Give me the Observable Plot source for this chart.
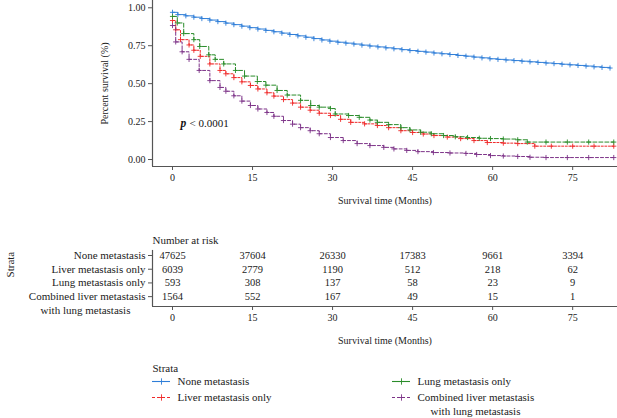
<!DOCTYPE html>
<html>
<head>
<meta charset="utf-8">
<script src="https://cdn.jsdelivr.net/npm/d3@7"></script>
<script src="https://cdn.jsdelivr.net/npm/@observablehq/plot@0.6"></script>
<style>
  body { margin: 0; background: #fff; }
  #chart { position: relative; width: 617px; height: 418px; overflow: hidden; }
  #chart > div { position: absolute; left: 0; }
  #chart svg { display: block; font-family: "Liberation Serif", "DejaVu Serif", serif !important; }
  #chart svg text { font-family: "Liberation Serif", "DejaVu Serif", serif !important; }
</style>
</head>
<body>
<div id="chart">
  <div id="km" style="top:0px"></div>
  <div id="risk" style="top:225px"></div>
  <div id="legend" style="top:355px"></div>
</div>
<script>
// ---------- data ----------
const strata = ["None metastasis", "Liver metastasis only", "Lung metastasis only", "Combined liver metastasis"];
const strataLine2 = ["", "", "", "with lung metastasis"];
const colors = ["#2f7ed8", "#ef2a2a", "#2a8c2a", "#7d3388"];
const dashes = ["none", "2,1.6", "4,2", "3,2"];
const legendDashes = ["none", "3,2", "none", "3,2"];

const monthTicks = [0, 15, 30, 45, 60, 75];
const survTicks = [0, 0.25, 0.5, 0.75, 1];

// Kaplan-Meier step points
const noneT = [0,1,2.5,4,5.5,7,8.5,10,11.5,13,14.5,16,17.5,19,20.5,22,23.5,25,26.5,28,29.5,31,32.5,34,35.5,37,38.5,40,41.5,43,44.5,46,47.5,49,50.5,52,53.5,55,56.5,58,59.5,61,62.5,64,65.5,67,68.5,70,71.5,73,74.5,76,77.5,79,80.5,82];
const noneS = [0.970,0.955,0.947,0.938,0.929,0.919,0.909,0.899,0.889,0.879,0.869,0.860,0.851,0.842,0.833,0.824,0.815,0.806,0.797,0.788,0.780,0.773,0.767,0.761,0.754,0.748,0.742,0.736,0.730,0.724,0.718,0.713,0.708,0.702,0.697,0.692,0.686,0.681,0.675,0.670,0.664,0.660,0.656,0.652,0.648,0.644,0.640,0.636,0.632,0.628,0.624,0.620,0.616,0.611,0.607,0.603];

const liverT = [0,0.6,1.5,3.1,4,5.2,7,8.9,10,11.5,13,14.6,16,17.7,19,20.8,22.5,24,25.8,27.5,29.6,31.5,33.4,36,38.4,40.5,42.8,45,47,49,51.5,54,56.5,59,62,64.7,67.9,71,75,79,82.7];
const liverS = [0.916,0.855,0.79,0.755,0.72,0.68,0.63,0.587,0.565,0.54,0.512,0.488,0.465,0.44,0.418,0.395,0.372,0.345,0.325,0.305,0.29,0.265,0.245,0.235,0.224,0.21,0.19,0.178,0.168,0.158,0.148,0.138,0.125,0.112,0.108,0.105,0.088,0.088,0.088,0.088,0.088];

const lungT = [0,0.9,2.1,4,5.1,6.8,8,9.6,11.8,13.5,15.9,17.5,19.6,21.5,24,25.9,27.5,29.6,30.5,33,35,37,38.4,40.5,42.8,44.5,46.5,48.5,50.8,53,55.3,57.5,59.6,62,64.7,66.5,70,74,78,82.7];
const lungS = [0.943,0.90,0.83,0.79,0.745,0.69,0.66,0.63,0.587,0.55,0.514,0.49,0.455,0.425,0.39,0.356,0.345,0.336,0.30,0.29,0.278,0.26,0.245,0.23,0.21,0.195,0.18,0.17,0.158,0.15,0.145,0.14,0.138,0.135,0.13,0.115,0.115,0.115,0.115,0.115];

const combT = [0,0.6,1.8,3.1,5,7,8.9,10,11.5,13,14.6,16,17.7,19,20.8,22.5,24,25.8,27.5,29.6,32,34.6,37,39.6,41.5,43.9,46,48.9,52,55,57,59.6,62,64.7,67,70,74,78,82.7];
const combS = [0.883,0.775,0.71,0.66,0.587,0.52,0.475,0.45,0.42,0.385,0.356,0.333,0.31,0.285,0.257,0.233,0.21,0.19,0.17,0.145,0.125,0.105,0.092,0.08,0.07,0.06,0.052,0.046,0.043,0.04,0.033,0.026,0.023,0.02,0.015,0.013,0.013,0.013,0.013];

// Number at risk
const riskNone  = [47625, 37604, 26330, 17383, 9661, 3394];
const riskLiver = [6039, 2779, 1190, 512, 218, 62];
const riskLung  = [593, 308, 137, 58, 23, 9];
const riskComb  = [1564, 552, 167, 49, 15, 1];

// legend grid (column, row) per stratum
const legendCol = [0, 0, 1, 1];
const legendRow = [0, 1, 0, 1];

// ---------- build ----------
const seriesT = [noneT, liverT, lungT, combT];
const seriesS = [noneS, liverS, lungS, combS];
const riskRows = [riskNone, riskLiver, riskLung, riskComb];
const xDomain = [-3.75, 83.4];
const font = "Liberation Serif";
const ink = "#222";
const axisInk = "#555";

const series = seriesT.map((ts, i) => ts.map((t, j) => ({t, s: seriesS[i][j], k: i})));

const kmMarks = [];
series.forEach((d, i) => {
  kmMarks.push(Plot.line(d, {x: "t", y: "s", curve: "step-after", stroke: colors[i], strokeWidth: 1, strokeDasharray: dashes[i]}));
  kmMarks.push(Plot.dot(d, {x: "t", y: "s", symbol: "plus", r: 1.8, stroke: colors[i], strokeWidth: 0.9}));
});

const yDom = [-0.046, 1.048];
const km = Plot.plot({
  width: 617, height: 212,
  marginLeft: 152, marginRight: 0, marginTop: 0, marginBottom: 46,
  style: {fontFamily: font, fontSize: "10px", color: ink, background: "white"},
  x: {domain: xDomain},
  y: {domain: yDom},
  marks: [
    Plot.axisX({ticks: monthTicks, tickSize: 4, tickPadding: 3, stroke: axisInk, fill: ink, fontSize: 10,
      label: "Survival time (Months)", labelArrow: "none", labelAnchor: "center", labelOffset: 37}),
    Plot.axisY({ticks: survTicks, tickSize: 4, tickPadding: 3, stroke: axisInk, fill: ink, tickFormat: d3.format(".2f"),
      label: "Percent survival (%)", labelArrow: "none", labelAnchor: "center", labelOffset: 52}),
    Plot.ruleX([xDomain[0]], {stroke: axisInk, strokeWidth: 1.2}),
    Plot.ruleY([yDom[0]], {stroke: axisInk, strokeWidth: 1.2}),
    ...kmMarks,
    Plot.text(["p"], {x: 1.5, y: 0.237, textAnchor: "start", fontStyle: "italic", fontWeight: "bold", fontSize: 11.5, fill: "#111"}),
    Plot.text(["< 0.0001"], {x: 1.5, y: 0.237, dx: 9, textAnchor: "start", fontSize: 11, fill: "#111"})
  ]
});
document.getElementById("km").appendChild(km);

// risk table
const riskData = [];
riskRows.forEach((row, i) => row.forEach((n, j) => riskData.push({t: monthTicks[j], row: i, n})));
const ryDom = [3.72, -2.19];
const risk = Plot.plot({
  width: 617, height: 130,
  marginLeft: 152, marginRight: 0, marginTop: 0, marginBottom: 49,
  style: {fontFamily: font, fontSize: "10px", color: ink, background: "white"},
  x: {domain: xDomain},
  y: {domain: ryDom},
  marks: [
    Plot.axisX({ticks: monthTicks, tickSize: 4, tickPadding: 3, stroke: axisInk, fill: ink,
      label: "Survival time (Months)", labelArrow: "none", labelAnchor: "center", labelOffset: 37}),
    Plot.axisY({ticks: [0, 1, 2, 3], tickSize: 4, tickPadding: 3, stroke: axisInk, fill: ink, fontSize: 11,
      tickFormat: i => strata[i], label: null}),
    Plot.text(strataLine2.map((s, i) => ({s, row: i})).filter(d => d.s), {
      y: "row", text: "s", frameAnchor: "left", dx: -67, dy: 14, textAnchor: "middle", fontSize: 11, fill: ink}),
    Plot.text(["Strata"], {y: 1.6, frameAnchor: "left", dx: -142, rotate: -90, fontSize: 11, fill: ink}),
    Plot.text(["Number at risk"], {y: -1.1, frameAnchor: "left", textAnchor: "start", fontSize: 11, fill: ink}),
    Plot.ruleX([xDomain[0]], {y1: -0.37, y2: ryDom[0], stroke: axisInk, strokeWidth: 1.2}),
    Plot.ruleY([ryDom[0]], {stroke: axisInk, strokeWidth: 1.2}),
    Plot.text(riskData, {x: "t", y: "row", text: d => String(d.n), fontSize: 10.5, fill: ink})
  ]
});
document.getElementById("risk").appendChild(risk);

// legend
const legData = strata.map((s, i) => ({s, s2: strataLine2[i], col: legendCol[i], row: legendRow[i], i}));
const legMarks = [
  Plot.text(["Strata"], {frameAnchor: "top-left", dy: -13, lineAnchor: "middle", textAnchor: "start", fontSize: 11, fill: ink})
];
legData.forEach(d => {
  legMarks.push(Plot.ruleY([d], {x1: "col", x2: d => d.col + 0.075, y: "row", stroke: colors[d.i], strokeWidth: 1.1, strokeDasharray: legendDashes[d.i]}));
  legMarks.push(Plot.dot([d], {x: d => d.col + 0.0375, y: "row", symbol: "plus", r: 2.2, stroke: colors[d.i], strokeWidth: 0.9}));
  legMarks.push(Plot.text([d], {x: "col", y: "row", text: "s", dx: 25, textAnchor: "start", fontSize: 11, fill: ink}));
  if (d.s2) legMarks.push(Plot.text([d], {x: "col", y: "row", text: "s2", dx: 83, dy: 14, textAnchor: "middle", fontSize: 11, fill: ink}));
});
const legend = Plot.plot({
  width: 617, height: 63,
  marginLeft: 152, marginRight: 225, marginTop: 26, marginBottom: 21,
  style: {fontFamily: font, fontSize: "11px", color: ink, background: "white"},
  x: {domain: [0, 1], axis: null},
  y: {domain: [0, 1], reverse: true, axis: null},
  marks: legMarks
});
document.getElementById("legend").appendChild(legend);
</script>
</body>
</html>
